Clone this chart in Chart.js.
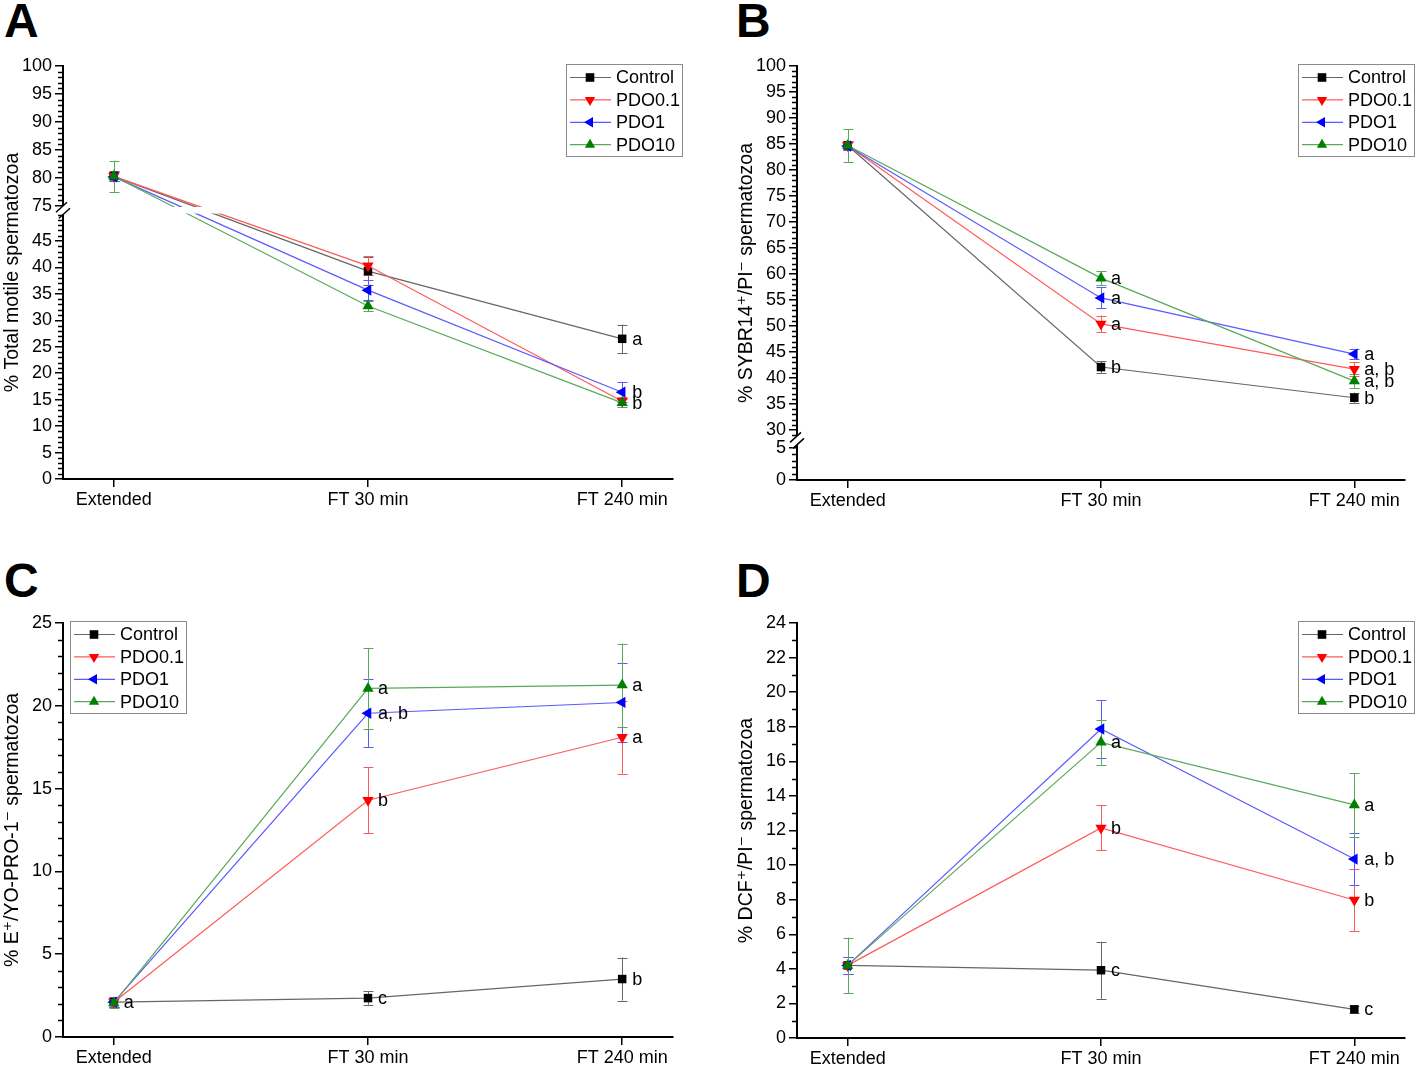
<!DOCTYPE html>
<html>
<head>
<meta charset="utf-8">
<script src="https://cdn.jsdelivr.net/npm/chart.js@4/dist/chart.umd.min.js"></script>
<style>
  body { margin: 0; background: #fff; width: 1417px; height: 1067px; position: relative; overflow: hidden; }
  canvas { position: absolute; }
  .letter { position: absolute; font: bold 48px "Liberation Sans", Arial, sans-serif; line-height: 1; color: #000; }
</style>
</head>
<body>
<div class="letter" style="left:4px;top:-3px">A</div>
<div class="letter" style="left:736px;top:-3px">B</div>
<div class="letter" style="left:4px;top:557px">C</div>
<div class="letter" style="left:736px;top:557px">D</div>
<canvas id="chartA" width="708" height="533" style="left:0;top:0"></canvas>
<canvas id="chartB" width="683" height="533" style="left:734px;top:0"></canvas>
<canvas id="chartC" width="708" height="510" style="left:0;top:557px"></canvas>
<canvas id="chartD" width="683" height="510" style="left:734px;top:557px"></canvas>
<script>
const categories = ["Extended", "FT 30 min", "FT 240 min"];
const seriesNames = ["Control", "PDO0.1", "PDO1", "PDO10"];

// A - total motility
const motControl = [80.3, 39.3, 26.5];
const motPDO01 = [80.3, 40.3, 14.7];
const motPDO1 = [80.2, 35.7, 16.4];
const motPDO10 = [80.3, 32.7, 14.4];
const motErrControl = [0.9, 2.6, 2.7];
const motErrPDO01 = [0.8, 1.8, 0.8];
const motErrPDO1 = [0.8, 1.9, 1.9];
const motErrPDO10 = [2.8, 1.0, 0.8];
const motTicks = [0, 5, 10, 15, 20, 25, 30, 35, 40, 45, 75, 80, 85, 90, 95, 100];

// B - SYBR14+/PI-
const sybControl = [84.7, 42.1, 36.2];
const sybPDO01 = [84.7, 50.4, 41.7];
const sybPDO1 = [84.6, 55.4, 44.6];
const sybPDO10 = [84.7, 59.2, 39.4];
const sybErrControl = [0.8, 1.1, 1.0];
const sybErrPDO01 = [0.8, 1.6, 1.4];
const sybErrPDO1 = [0.8, 2.0, 1.0];
const sybErrPDO10 = [3.2, 1.3, 1.3];
const sybTicks = [0, 5, 30, 35, 40, 45, 50, 55, 60, 65, 70, 75, 80, 85, 90, 95, 100];

// C - E+/YO-PRO-1-
const yoControl = [2.1, 2.35, 3.5];
const yoPDO01 = [2.1, 14.3, 18.1];
const yoPDO1 = [2.1, 19.55, 20.2];
const yoPDO10 = [2.05, 21.05, 21.25];
const yoErrControl = [0.3, 0.4, 1.3];
const yoErrPDO01 = [0.3, 2.0, 2.2];
const yoErrPDO1 = [0.3, 2.05, 2.4];
const yoErrPDO10 = [0.3, 2.45, 2.5];
const yoTicks = [0, 5, 10, 15, 20, 25];

// D - DCF+/PI-
const dcfControl = [4.2, 3.92, 1.66];
const dcfPDO01 = [4.2, 12.15, 7.98];
const dcfPDO1 = [4.2, 17.87, 10.35];
const dcfPDO10 = [4.2, 17.1, 13.48];
const dcfErrControl = [0.5, 1.65, 0.2];
const dcfErrPDO01 = [0.5, 1.3, 1.8];
const dcfErrPDO1 = [0.5, 1.65, 1.5];
const dcfErrPDO10 = [1.6, 1.3, 1.85];
const dcfTicks = [0, 2, 4, 6, 8, 10, 12, 14, 16, 18, 20, 22, 24];

const lineColors = ["#666666", "#ff5a5a", "#5a5aff", "#5aa85a"];
const markColors = ["#000000", "#ff0000", "#0000ff", "#008000"];
const pointStyles = ["rect", "triangle", "triangle", "triangle"];
const pointRotations = [0, 180, -90, 0];
const FONT = '"Liberation Sans", "DejaVu Sans", Arial, sans-serif';

// piecewise map value -> axis position (broken axes)
function toAxis(segs, v) {
  let s = segs[0];
  for (const g of segs) if (v >= g[0]) s = g;
  return s[1] + (v - s[0]) * (s[3] - s[1]) / (s[2] - s[0]);
}

const panels = {
  chartA: {
    values: [motControl, motPDO01, motPDO1, motPDO10],
    errors: [motErrControl, motErrPDO01, motErrPDO1, motErrPDO10],
    marks: [[null, null, "a"], [null, null, null], [null, null, "b"], [null, null, "b"]],
    ticks: motTicks, minorStep: 1,
    segs: [[0, 0, 50, 264.5], [75, 273, 100, 413]],
    title: "% Total motile spermatozoa",
    padRight: 35, xHeight: 54, legendLeft: false
  },
  chartB: {
    values: [sybControl, sybPDO01, sybPDO1, sybPDO10],
    errors: [sybErrControl, sybErrPDO01, sybErrPDO1, sybErrPDO10],
    marks: [[null, "b", "b"], [null, "a", "a, b"], [null, "a", "a"], [null, "a", "a, b"]],
    ticks: sybTicks, minorStep: 1,
    segs: [[0, 0, 5.5, 35.5], [28.8, 43.8, 100, 414]],
    title: "% SYBR14\u207A/PI\u207B spermatozoa",
    padRight: 12, xHeight: 53, legendLeft: false
  },
  chartC: {
    values: [yoControl, yoPDO01, yoPDO1, yoPDO10],
    errors: [yoErrControl, yoErrPDO01, yoErrPDO1, yoErrPDO10],
    marks: [["a", "c", "b"], [null, "b", "a"], [null, "a, b", null], [null, "a", "a"]],
    ticks: yoTicks, minorStep: 1,
    segs: [[0, 0, 25, 414]],
    title: "% E\u207A/YO-PRO-1\u207B spermatozoa",
    padRight: 35, xHeight: 30, legendLeft: true
  },
  chartD: {
    values: [dcfControl, dcfPDO01, dcfPDO1, dcfPDO10],
    errors: [dcfErrControl, dcfErrPDO01, dcfErrPDO1, dcfErrPDO10],
    marks: [[null, "c", "c"], [null, "b", "b"], [null, null, "a, b"], [null, "a", "a"]],
    ticks: dcfTicks, minorStep: 1,
    segs: [[0, 0, 24, 414.5]],
    title: "% DCF\u207A/PI\u207B spermatozoa",
    padRight: 12, xHeight: 29, legendLeft: false
  }
};

function drawMarker(ctx, i, x, y) {
  const r = 6;
  ctx.save();
  ctx.fillStyle = markColors[i];
  ctx.translate(x, y);
  ctx.rotate(pointRotations[i] * Math.PI / 180);
  ctx.beginPath();
  if (pointStyles[i] === "rect") {
    ctx.rect(-4.3, -4.3, 8.6, 8.6);
  } else {
    for (let k = 0; k < 3; k++) {
      const a = k * 2 * Math.PI / 3;
      ctx.lineTo(Math.sin(a) * r, -Math.cos(a) * r);
    }
    ctx.closePath();
  }
  ctx.fill();
  ctx.restore();
}

const extras = {
  id: "extras",
  beforeDatasetsDraw(chart) {
    const p = panels[chart.canvas.id];
    const ctx = chart.ctx, xs = chart.scales.x, ys = chart.scales.y;
    ctx.save();
    ctx.lineWidth = 1;
    p.values.forEach((vals, i) => {
      ctx.strokeStyle = lineColors[i];
      vals.forEach((v, j) => {
        const e = p.errors[i][j];
        const x = Math.round(xs.getPixelForValue(j)) + 0.5;
        const t = ys.getPixelForValue(toAxis(p.segs, v + e));
        const b = ys.getPixelForValue(toAxis(p.segs, v - e));
        ctx.beginPath();
        ctx.moveTo(x, t); ctx.lineTo(x, b);
        ctx.moveTo(x - 5, Math.round(t) + 0.5); ctx.lineTo(x + 5, Math.round(t) + 0.5);
        ctx.moveTo(x - 5, Math.round(b) + 0.5); ctx.lineTo(x + 5, Math.round(b) + 0.5);
        ctx.stroke();
      });
    });
    ctx.restore();
  },
  afterDatasetsDraw(chart) {
    const p = panels[chart.canvas.id];
    const ctx = chart.ctx, xs = chart.scales.x, ys = chart.scales.y;
    const ca = chart.chartArea;
    const ax = ca.left;
    ctx.save();

    // axis break
    if (p.segs.length > 1) {
      const yHi = ys.getPixelForValue(p.segs[1][1]);
      const yLo = ys.getPixelForValue(p.segs[0][3]);
      const yc = (yHi + yLo) / 2;
      ctx.fillStyle = "#fff";
      ctx.fillRect(ax - 1, yHi + 1, ca.right - ax + 2, yLo - yHi - 2);
      ctx.beginPath();
      ctx.moveTo(ax - 6, yc + 1); ctx.lineTo(ax + 4, yc - 8);
      ctx.lineTo(ax + 6, yc - 1); ctx.lineTo(ax - 4, yc + 8); ctx.closePath();
      ctx.fill();
      ctx.strokeStyle = "#000"; ctx.lineWidth = 1.5;
      ctx.beginPath();
      ctx.moveTo(ax - 7, yc + 2); ctx.lineTo(ax + 4, yc - 8);
      ctx.moveTo(ax - 4, yc + 8); ctx.lineTo(ax + 7, yc - 2);
      ctx.stroke();
    }

    // minor ticks
    ctx.strokeStyle = "#000"; ctx.lineWidth = 1.5;
    ctx.beginPath();
    for (const s of p.segs) {
      for (let v = Math.ceil(s[0]); v <= s[2]; v += p.minorStep) {
        if (p.ticks.includes(v)) continue;
        const y = Math.round(ys.getPixelForValue(toAxis(p.segs, v))) + 0.5;
        ctx.moveTo(ax - 5, y); ctx.lineTo(ax, y);
      }
    }
    ctx.stroke();

    // significance letters
    ctx.fillStyle = "#000";
    ctx.font = "18px " + FONT;
    ctx.textBaseline = "middle";
    ctx.textAlign = "left";
    p.marks.forEach((m, i) => m.forEach((txt, j) => {
      if (!txt) return;
      const x = xs.getPixelForValue(j), y = ys.getPixelForValue(toAxis(p.segs, p.values[i][j]));
      ctx.fillText(txt, x + 10, y + 1);
    }));

    // legend box
    const w = 116, h = 92;
    const bx = p.legendLeft ? ca.left + 7 : ca.right + 9 - w;
    const by = ca.top - 2;
    ctx.fillStyle = "#fff";
    ctx.fillRect(bx, by, w, h);
    ctx.strokeStyle = "#8a8a8a"; ctx.lineWidth = 1;
    ctx.strokeRect(Math.round(bx) + 0.5, Math.round(by) + 0.5, w, h);
    seriesNames.forEach((name, i) => {
      const y = by + 13.5 + i * 22.4;
      ctx.strokeStyle = lineColors[i]; ctx.lineWidth = 1.2;
      ctx.beginPath(); ctx.moveTo(bx + 4, y); ctx.lineTo(bx + 45, y); ctx.stroke();
      drawMarker(ctx, i, bx + 24, y);
      ctx.fillStyle = "#000";
      ctx.fillText(name, bx + 50, y + 1);
    });
    ctx.restore();
  }
};

function buildChart(id) {
  const p = panels[id];
  const datasets = p.values.map((vals, i) => ({
    label: seriesNames[i],
    data: vals.map((v, j) => ({ x: j, y: toAxis(p.segs, v) })),
    borderColor: lineColors[i],
    borderWidth: 1.2,
    backgroundColor: markColors[i],
    pointBackgroundColor: markColors[i],
    pointBorderColor: markColors[i],
    pointBorderWidth: 0,
    pointStyle: pointStyles[i],
    pointRotation: pointRotations[i],
    pointRadius: pointStyles[i] === "rect" ? 6 : 6.5,
    tension: 0,
    order: 4 - i
  }));
  const yMax = p.segs[p.segs.length - 1][3];
  new Chart(document.getElementById(id), {
    type: "line",
    data: { datasets },
    options: {
      responsive: false,
      animation: false,
      devicePixelRatio: 1,
      layout: { padding: { top: 66, right: p.padRight, left: 0, bottom: 0 } },
      plugins: { legend: { display: false }, tooltip: { enabled: false } },
      scales: {
        x: {
          type: "linear", min: -0.2, max: 2.2,
          afterBuildTicks: s => { s.ticks = [0, 1, 2].map(v => ({ value: v })); },
          afterFit: s => { s.height = p.xHeight; },
          ticks: { callback: v => categories[v], color: "#000", font: { family: FONT, size: 18 }, padding: 2, maxRotation: 0, autoSkip: false },
          grid: { drawOnChartArea: false, tickLength: 8, color: "#000", lineWidth: 1.5 },
          border: { color: "#000", width: 2 }
        },
        y: {
          type: "linear", min: 0, max: yMax,
          afterBuildTicks: s => { s.ticks = p.ticks.map(v => ({ value: toAxis(p.segs, v) })); },
          afterFit: s => { s.width = 63; },
          ticks: { callback: (v, i) => String(p.ticks[i]), color: "#000", font: { family: FONT, size: 18 }, padding: 3, autoSkip: false },
          grid: { drawOnChartArea: false, tickLength: 8, color: "#000", lineWidth: 1.5 },
          border: { color: "#000", width: 2 },
          title: { display: true, text: p.title, color: "#000", font: { family: FONT, size: 19.5 }, padding: { top: 1, bottom: 0 } }
        }
      }
    },
    plugins: [extras]
  });
}

["chartA", "chartB", "chartC", "chartD"].forEach(buildChart);
</script>
</body>
</html>
